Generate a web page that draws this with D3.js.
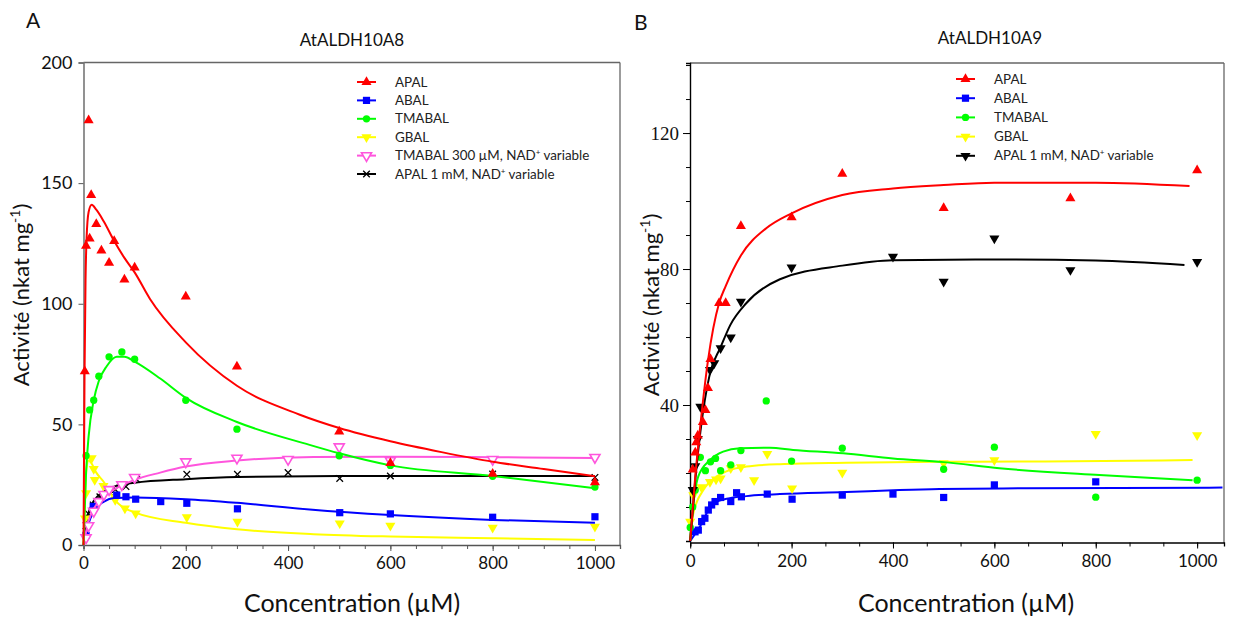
<!DOCTYPE html>
<html><head><meta charset="utf-8">
<script src="https://cdn.jsdelivr.net/npm/d3@7"></script>
<style>body{margin:0;background:#fff;} svg{display:block;}</style>
</head><body>
<svg id="c" width="1233" height="618"></svg>
<script>
// ---------- Panel A (AtALDH10A8) data ----------
const xTicksA = [0,200,400,600,800,1000];
const yTicksA = [0,50,100,150,200];
const apalA_x = [2.5,5,10,12,15,25,35,50,60,80,100,200,300,500,600,800,1000];
const apalA_y = [72,124,176,127,145,133,122,117,126,110,115,103,74,47,34,29.5,26];
const apalA_fitX = [0,2,4,6,10,16,25,40,60,80,100,130,200,300,423,500,600,700,800,900,1000];
const apalA_fitY = [0,70,110,127,138,141,139,134,126,119,113,102,84,66,54,48.5,43,38.5,34.5,31.5,28.5];
const abalA_x = [5,19,65,83,102,151,202,301,501,600,800,1000];
const abalA_y = [4,16,20.7,20,19,18,17.3,15,13.4,12.9,11.5,11.7];
const abalA_fitX = [0,10,20,40,60,100,200,300,442,600,800,1000];
const abalA_fitY = [0,9,14,18,19.5,19.7,19,17.5,14.7,12.4,10.4,9.2];
const tmabalA_x = [5,12,20,30,50,75,100,200,300,500,600,800,1000];
const tmabalA_y = [37,56,60,70,78,80,77,60,48,37,33,28.5,24];
const tmabalA_fitX = [0,5,10,20,30,45,65,80,100,150,200,300,442,500,600,800,1000];
const tmabalA_fitY = [0,30,45,60,68,74,78,78,76,69,61,51,41.5,38,33,28.6,23.5];
const gbalA_x = [3,5,16,20,22,39,62,81,102,202,301,501,600,800,1000];
const gbalA_y = [11,21.5,36,31.5,27,24.5,18.7,15.2,13.1,11.5,9.7,9,8,7.2,7.6];
const gbalA_fitX = [0,3,6,10,15,25,40,60,100,200,300,450,600,800,1000];
const gbalA_fitY = [0,20,32,35,34,30,26,19,13.5,9.2,6.5,4.5,3.5,2.8,2.1];
const nadTmA_x = [5,10,20,30,40,50,75,100,200,300,400,500,600,800,1000];
const nadTmA_y = [3,8,14,18,21,23,25,28,34.5,36,35.5,40.7,35,35.5,36.3];
const nadTmA_fitX = [0,10,20,40,60,100,150,200,300,450,600,800,1000];
const nadTmA_fitY = [0,10,15,20,23,27,30,32.5,35,36.5,36.6,36.4,36.1];
const nadApA_x = [5,9.5,19,32,50,62,83,104,202,301,400,501,600,800,1000];
const nadApA_y = [8,13,16.6,20,22,23,24.2,27.2,29.3,29.3,30,27.6,28.6,29.4,28];
const nadApA_fitX = [0,5,13,30,60,100,200,300,500,1000];
const nadApA_fitY = [0,9,15.2,20.7,24.2,25.8,27.3,28.2,28.6,28.6];

// ---------- Panel B (AtALDH10A9) data ----------
const xTicksB = [0,200,400,600,800,1000];
const yTicksB = [40,80,120];
const apalB_x = [5,10,12,15,25,30,35,40,57,70,100,200,300,500,750,1000];
const apalB_y = [21,26,29,31,35,38.5,45,53.5,70,70,92.6,95.2,108,97.9,100.8,109];
const apalB_fitX = [0,10,20,35,57,70,100,150,200,300,400,500,600,800,985];
const apalB_fitY = [0,19,34,53,70,75,84,92,96.4,101.8,103.7,104.7,105.4,105.4,104.4];
const abalB_x = [9.5,16,22.6,29,35.7,42.3,49,60,80,91.5,101,152,201,300,400,500,600,800];
const abalB_y = [2.7,3.2,5.7,6.7,9.1,10.6,11.6,12.8,11.6,14.2,13,13.8,12.3,13.5,13.8,12.8,16.5,17.4];
const abalB_fitX = [0,19,45,78,111,177,308,413,492,663,1050];
const abalB_fitY = [0,4.2,11,12.6,13.2,13.8,14.4,15,15.3,15.5,15.7];
const tmabalB_x = [0,5,10,20,30,40,50,60,80,100,150,200,300,500,600,800,1000];
const tmabalB_y = [4,10,15,24.6,20.7,23.3,24.3,20.7,22.4,26.6,41.2,23.5,27.3,21.1,27.6,12.9,17.9];
const tmabalB_fitX = [0,5,16,39,65,98,157,203,302,400,500,610,807,991];
const tmabalB_fitY = [0,9,19,23.8,26.3,27.3,27.4,26.8,25.8,24.3,23.2,21.4,19.4,17.9];
const gbalB_x = [0,6,22,39,51,60,80,100,126,152,201,300,500,600,800,1000];
const gbalB_y = [5.7,13.5,15.8,17.4,18.1,18.4,21.4,21.7,17.9,25.6,15.5,20.1,22.9,23.8,31.5,31.1];
const gbalB_fitX = [0,6,26,52,78,111,177,308,492,700,991];
const gbalB_fitY = [0,8,15,18.9,20.9,21.9,22.6,23,23.3,23.4,23.8];
const nadApB_x = [5,10,15,20,39,47.5,60,80,100,200,400,500,600,750,1000];
const nadApB_y = [15,22,30,39.5,50.3,52.3,56.7,59.9,70.4,80.5,83.6,76.3,89,79.7,82.1];
const nadApB_fitX = [0,10,20,39,60,79,111,177,300,400,600,800,975];
const nadApB_fitY = [0,18,32,49.3,57,63.5,70,77,81,82.6,82.8,82.5,81.2];

const C = {red:"#ff0000", blue:"#0000ff", green:"#00ff00", yellow:"#ffff00", pink:"#ff55dd", black:"#000000"};

const svg = d3.select("#c");
const SANS = "Lato, 'Open Sans', sans-serif";
const SERIF = "'Liberation Serif', 'DejaVu Serif', serif";

function zip(xs, ys){ return xs.map((x,i)=>[x,ys[i]]); }

const triUp = d3.symbol().type(d3.symbolTriangle).size(44);
const sq = d3.symbol().type(d3.symbolSquare).size(52);
const circ = d3.symbol().type(d3.symbolCircle).size(42);
const times = d3.symbol().type(d3.symbolTimes).size(30);

function marker(g, kind, color, x, y){
  if(kind==="triUp") g.append("path").attr("d",triUp()).attr("transform",`translate(${x},${y})`).attr("fill",color);
  else if(kind==="triDown") g.append("path").attr("d",triUp()).attr("transform",`translate(${x},${y}) rotate(180)`).attr("fill",color);
  else if(kind==="triDownOpen") g.append("path").attr("d",triUp()).attr("transform",`translate(${x},${y}) rotate(180)`).attr("fill","#fff").attr("stroke",color).attr("stroke-width",1.6);
  else if(kind==="square") g.append("path").attr("d",sq()).attr("transform",`translate(${x},${y})`).attr("fill",color);
  else if(kind==="circle") g.append("path").attr("d",circ()).attr("transform",`translate(${x},${y})`).attr("fill",color);
  else if(kind==="times") g.append("path").attr("d",times()).attr("transform",`translate(${x},${y})`).attr("fill","none").attr("stroke",color).attr("stroke-width",1.3);
}

function drawSeries(g, x, y, s){
  const line = d3.line().x(d=>x(d[0])).y(d=>y(d[1])).curve(d3.curveMonotoneX);
  g.append("path").datum(zip(s.fx, s.fy)).attr("d", line)
    .attr("fill","none").attr("stroke", s.color).attr("stroke-width", 2);
  zip(s.px, s.py).forEach(p => marker(g, s.kind, s.color, x(p[0]), y(p[1])));
}

function legend(g, x0, y0, dy, items){
  items.forEach((it,i)=>{
    const yy = y0 + i*dy;
    g.append("line").attr("x1",x0).attr("x2",x0+19).attr("y1",yy).attr("y2",yy)
      .attr("stroke",it.color).attr("stroke-width",2);
    marker(g, it.kind, it.color, x0+9.5, yy);
    const t = g.append("text").attr("x",x0+38).attr("y",yy+4.5)
      .attr("font-family",SANS).attr("font-size",13.4).attr("fill","#222");
    if(it.sup){
      t.append("tspan").text(it.label);
      t.append("tspan").text("+").attr("font-size",8).attr("dy",-5);
      t.append("tspan").text(it.rest).attr("dy",5);
    } else t.text(it.label);
  });
}

function yLabel(x, y){
  const t = svg.append("text").attr("transform",`translate(${x},${y}) rotate(-90)`)
    .attr("text-anchor","middle").attr("font-family",SANS).attr("font-size",22).attr("fill","#111");
  t.append("tspan").text("Activité (nkat mg");
  t.append("tspan").text("-1").attr("font-size",14).attr("dy",-9);
  t.append("tspan").text(")").attr("dy",9);
}

const fmt = d3.format("d");

// ================= Panel A =================
{
  const x = d3.scaleLinear().domain([0,1049]).range([83.5,620]);
  const y = d3.scaleLinear().domain([0,200]).range([545,62.5]);
  const g = svg.append("g");
  g.append("line").attr("x1",83.5).attr("x2",620).attr("y1",62.5).attr("y2",62.5).attr("stroke","#666").attr("stroke-width",1.3);
  g.append("line").attr("x1",620).attr("x2",620).attr("y1",62.5).attr("y2",546).attr("stroke","#666").attr("stroke-width",1.3);
  const xa = g.append("g").attr("transform","translate(0,545)")
    .call(d3.axisBottom(x).tickValues(d3.range(0,1001,50)).tickSize(4).tickFormat(""));
  xa.select(".domain").attr("stroke","#555").attr("stroke-width",1.3);
  xa.selectAll(".tick line").attr("stroke","#555");
  const xl = g.append("g").attr("transform","translate(0,545)")
    .call(d3.axisBottom(x).tickValues(xTicksA).tickFormat(fmt).tickSize(6).tickPadding(6));
  xl.select(".domain").remove();
  xl.selectAll(".tick line").attr("stroke","#555");
  xl.selectAll("text").attr("font-family",SANS).attr("font-size",17).attr("fill","#111");
  const ya = g.append("g").attr("transform","translate(83.5,0)")
    .call(d3.axisLeft(y).tickValues(yTicksA).tickFormat(fmt).tickSize(5).tickPadding(6));
  ya.select(".domain").attr("stroke","#777").attr("stroke-width",1.6);
  ya.selectAll(".tick line").attr("stroke","#555");
  ya.selectAll("text").attr("font-family",SANS).attr("font-size",18).attr("fill","#111");

  const series = [
    {px:nadApA_x, py:nadApA_y, fx:nadApA_fitX, fy:nadApA_fitY, color:C.black, kind:"times"},
    {px:gbalA_x, py:gbalA_y, fx:gbalA_fitX, fy:gbalA_fitY, color:C.yellow, kind:"triDown"},
    {px:abalA_x, py:abalA_y, fx:abalA_fitX, fy:abalA_fitY, color:C.blue, kind:"square"},
    {px:nadTmA_x, py:nadTmA_y, fx:nadTmA_fitX, fy:nadTmA_fitY, color:C.pink, kind:"triDownOpen"},
    {px:tmabalA_x, py:tmabalA_y, fx:tmabalA_fitX, fy:tmabalA_fitY, color:C.green, kind:"circle"},
    {px:apalA_x, py:apalA_y, fx:apalA_fitX, fy:apalA_fitY, color:C.red, kind:"triUp"},
  ];
  series.forEach(s=>drawSeries(g,x,y,s));

  legend(g, 357, 82, 18.4, [
    {label:"APAL", color:C.red, kind:"triUp"},
    {label:"ABAL", color:C.blue, kind:"square"},
    {label:"TMABAL", color:C.green, kind:"circle"},
    {label:"GBAL", color:C.yellow, kind:"triDown"},
    {label:"TMABAL 300 µM, NAD", rest:" variable", sup:true, color:C.pink, kind:"triDownOpen"},
    {label:"APAL 1 mM, NAD", rest:" variable", sup:true, color:C.black, kind:"times"},
  ]);

  svg.append("text").attr("x",352).attr("y",46).attr("text-anchor","middle")
    .attr("font-family",SANS).attr("font-size",17).attr("fill","#111").text("AtALDH10A8");
  svg.append("text").attr("x",26).attr("y",28)
    .attr("font-family",SANS).attr("font-size",21).attr("fill","#111").text("A");
  svg.append("text").attr("x",352).attr("y",612).attr("text-anchor","middle")
    .attr("font-family",SANS).attr("font-size",25).attr("fill","#111").text("Concentration (µM)");
  yLabel(29, 295);
}

// ================= Panel B =================
{
  const x = d3.scaleLinear().domain([0,1053]).range([690.2,1224]);
  const y = d3.scaleLinear().domain([0,140.6]).range([541,63]);
  const g = svg.append("g");
  g.append("line").attr("x1",690).attr("x2",1224).attr("y1",63).attr("y2",63).attr("stroke","#666").attr("stroke-width",1.3);
  g.append("line").attr("x1",1224).attr("x2",1224).attr("y1",63).attr("y2",543).attr("stroke","#666").attr("stroke-width",1.3);
  const xa = g.append("g").attr("transform","translate(0,542.5)")
    .call(d3.axisBottom(x).tickValues(d3.range(0,1001,200/3)).tickSize(4).tickFormat(""));
  xa.select(".domain").attr("stroke","#000").attr("stroke-width",1.3);
  const xl = g.append("g").attr("transform","translate(0,542.5)")
    .call(d3.axisBottom(x).tickValues(xTicksB).tickFormat(fmt).tickSize(6).tickPadding(6));
  xl.select(".domain").remove();
  xl.selectAll("text").attr("font-family",SANS).attr("font-size",17).attr("fill","#111");
  const ym = g.append("g").attr("transform","translate(690,0)")
    .call(d3.axisLeft(y).tickValues(d3.range(10,141,10)).tickSize(4).tickFormat(""));
  ym.select(".domain").attr("stroke","#000").attr("stroke-width",1.4);
  const yl = g.append("g").attr("transform","translate(690,0)")
    .call(d3.axisLeft(y).tickValues(yTicksB).tickFormat(fmt).tickSize(7).tickPadding(4));
  yl.select(".domain").remove();
  yl.selectAll("text").attr("font-family",SERIF).attr("font-size",19).attr("fill","#111");

  const series = [
    {px:abalB_x, py:abalB_y, fx:abalB_fitX, fy:abalB_fitY, color:C.blue, kind:"square"},
    {px:gbalB_x, py:gbalB_y, fx:gbalB_fitX, fy:gbalB_fitY, color:C.yellow, kind:"triDown"},
    {px:tmabalB_x, py:tmabalB_y, fx:tmabalB_fitX, fy:tmabalB_fitY, color:C.green, kind:"circle"},
    {px:nadApB_x, py:nadApB_y, fx:nadApB_fitX, fy:nadApB_fitY, color:C.black, kind:"triDown"},
    {px:apalB_x, py:apalB_y, fx:apalB_fitX, fy:apalB_fitY, color:C.red, kind:"triUp"},
  ];
  series.forEach(s=>drawSeries(g,x,y,s));

  legend(g, 956, 79, 19.2, [
    {label:"APAL", color:C.red, kind:"triUp"},
    {label:"ABAL", color:C.blue, kind:"square"},
    {label:"TMABAL", color:C.green, kind:"circle"},
    {label:"GBAL", color:C.yellow, kind:"triDown"},
    {label:"APAL 1 mM, NAD", rest:" variable", sup:true, color:C.black, kind:"triDown"},
  ]);

  svg.append("text").attr("x",990).attr("y",44).attr("text-anchor","middle")
    .attr("font-family",SANS).attr("font-size",17).attr("fill","#111").text("AtALDH10A9");
  svg.append("text").attr("x",634).attr("y",30)
    .attr("font-family",SANS).attr("font-size",21).attr("fill","#111").text("B");
  svg.append("text").attr("x",966).attr("y",612).attr("text-anchor","middle")
    .attr("font-family",SANS).attr("font-size",25).attr("fill","#111").text("Concentration (µM)");
  yLabel(659, 305);
}
</script>
</body></html>
